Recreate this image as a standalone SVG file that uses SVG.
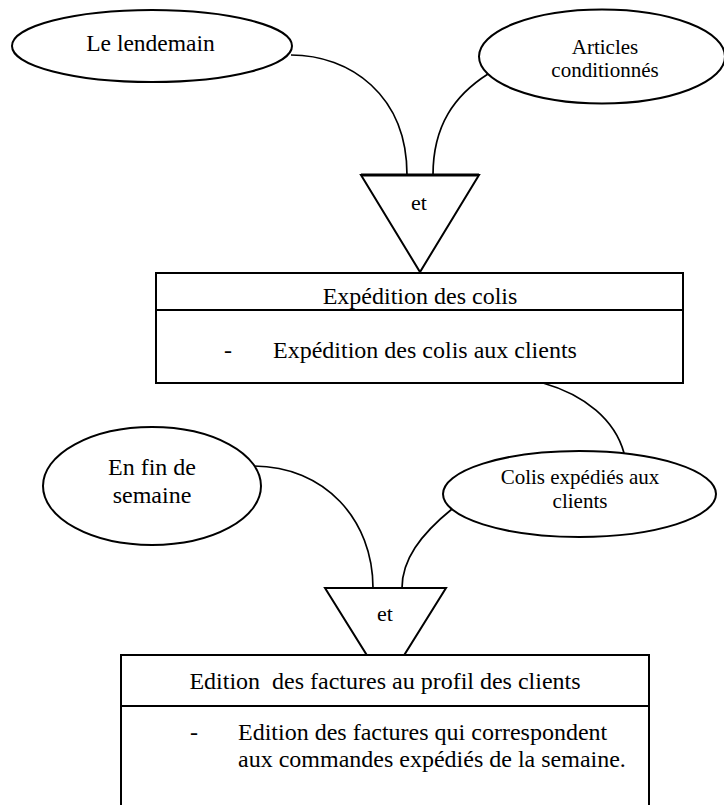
<svg xmlns="http://www.w3.org/2000/svg" width="724" height="805" viewBox="0 0 724 805">
<style>
.s{fill:#fff;stroke:#000;stroke-width:2}
.c{fill:none;stroke:#000;stroke-width:1.7}
text{font-family:"Liberation Serif","Times New Roman",serif;fill:#000}
.t24{font-size:24px}
.t23{font-size:23.5px}
.t21{font-size:21px}
.t22{font-size:22px}
</style>
<rect width="724" height="805" fill="#fff"/>
<g id="connectors">
<path class="c" d="M291,55 C350,55 407,95 407,175"/>
<path class="c" d="M488,74 C455,95 433,125 433,175"/>
<path class="c" d="M543,383 C585,395 615,420 624,453"/>
<path class="c" d="M253,466 C325,466 373,520 373,588"/>
<path class="c" d="M452,509 C420,535 402,560 402,588"/>
</g>
<g id="evt-lendemain">
<ellipse class="s" cx="152" cy="46" rx="140" ry="36"/>
<text class="t23" x="150.5" y="51" text-anchor="middle">Le lendemain</text>
</g>
<g id="evt-articles">
<ellipse class="s" cx="602" cy="56.5" rx="123" ry="47"/>
<text class="t21" x="605" y="54" text-anchor="middle">Articles</text>
<text class="t21" x="605" y="77" text-anchor="middle">conditionnés</text>
</g>
<g id="sync-1">
<polygon class="s" points="361,175 479,175 420,272"/>
<line x1="361" y1="175" x2="479" y2="175" stroke="#000" stroke-width="3"/>
<text class="t22" x="419" y="210" text-anchor="middle">et</text>
</g>
<g id="op-expedition">
<rect class="s" x="156" y="273" width="527" height="110"/>
<line x1="156" y1="310" x2="683" y2="310" stroke="#000" stroke-width="2"/>
<text class="t24" x="420" y="304" text-anchor="middle">Expédition des colis</text>
<text class="t24" x="228" y="358" text-anchor="middle">-</text>
<text class="t24" x="273" y="358">Expédition des colis aux clients</text>
</g>
<g id="evt-finsemaine">
<ellipse class="s" cx="152" cy="486" rx="109" ry="59"/>
<text class="t24" x="152" y="475" text-anchor="middle">En fin de</text>
<text class="t24" x="152" y="503" text-anchor="middle">semaine</text>
</g>
<g id="evt-colis">
<ellipse class="s" cx="579.5" cy="494" rx="136.5" ry="43"/>
<text class="t21" x="580" y="484" text-anchor="middle">Colis expédiés aux</text>
<text class="t21" x="580" y="508" text-anchor="middle">clients</text>
</g>
<g id="sync-2">
<polygon class="s" points="325,588 446,588 385.5,685"/>
<text class="t22" x="385" y="621" text-anchor="middle">et</text>
</g>
<g id="op-edition">
<rect class="s" x="121" y="655" width="528" height="170"/>
<line x1="121" y1="706" x2="649" y2="706" stroke="#000" stroke-width="2"/>
<text class="t24" x="385" y="689" text-anchor="middle" xml:space="preserve">Edition  des factures au profil des clients</text>
<text class="t24" x="194" y="740" text-anchor="middle">-</text>
<text class="t24" x="238" y="740">Edition des factures qui correspondent</text>
<text class="t24" x="238" y="767">aux commandes expédiés de la semaine.</text>
</g>
</svg>
